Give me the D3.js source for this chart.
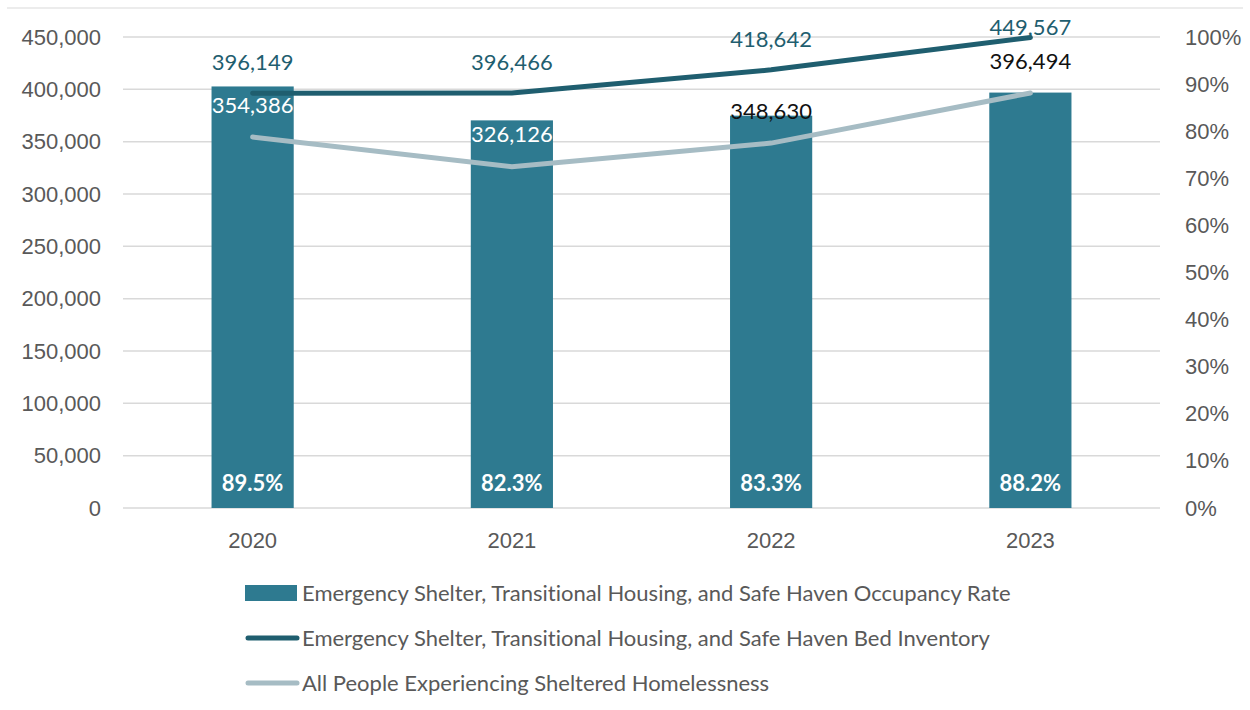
<!DOCTYPE html>
<html>
<head>
<meta charset="utf-8">
<script src="https://cdn.jsdelivr.net/npm/d3@7"></script>
<style>
  body { margin: 0; background: #fff; }
  svg { font-family: Lato, "Open Sans", sans-serif; font-variant-ligatures: none; }
</style>
</head>
<body>
<div id="chart"></div>
<script>
var years = ['2020', '2021', '2022', '2023']
var occupancyRate = [89.5, 82.3, 83.3, 88.2]
var bedInventory = [396149, 396466, 418642, 449567]
var shelteredPeople = [354386, 326126, 348630, 396494]
var leftTicks = [0, 50000, 100000, 150000, 200000, 250000, 300000, 350000, 400000, 450000]
var rightTicks = [0, 10, 20, 30, 40, 50, 60, 70, 80, 90, 100]
var legendLabels = [
  'Emergency Shelter, Transitional Housing, and Safe Haven Occupancy Rate',
  'Emergency Shelter, Transitional Housing, and Safe Haven Bed Inventory',
  'All People Experiencing Sheltered Homelessness'
]

var width = 1250
var height = 710
var margin = {top: 37, right: 90, bottom: 202, left: 123}
var plotW = width - margin.left - margin.right
var plotH = height - margin.top - margin.bottom

var barColor = '#2e7a90'
var bedColor = '#1f5e6f'
var peopleColor = '#a6bcc4'
var textGray = '#595959'
var fontSize = '22px'

var svg = d3.select('#chart').append('svg')
  .attr('width', width)
  .attr('height', height)

// faint chart border line at top
svg.append('line')
  .attr('x1', 7).attr('x2', width - 7)
  .attr('y1', 8).attr('y2', 8)
  .attr('stroke', '#e6e6e6').attr('stroke-width', 1.5)

var g = svg.append('g')
  .attr('transform', 'translate(' + margin.left + ',' + margin.top + ')')

var x = d3.scaleBand()
  .domain(years)
  .range([0, plotW])
  .paddingInner(0.683)
  .paddingOuter(0.3415)

var yL = d3.scaleLinear().domain([0, 450000]).range([plotH, 0])
var yR = d3.scaleLinear().domain([0, 100]).range([plotH, 0])

// gridlines
g.append('g')
  .selectAll('line')
  .data(leftTicks)
  .enter().append('line')
  .attr('x1', 0).attr('x2', plotW)
  .attr('y1', function (d) { return yL(d) })
  .attr('y2', function (d) { return yL(d) })
  .attr('stroke', '#d9d9d9').attr('stroke-width', 1.5)

var leftAxis = g.append('g')
  .call(d3.axisLeft(yL).tickValues(leftTicks).tickFormat(d3.format(',')).tickSize(0).tickPadding(22))
leftAxis.select('.domain').remove()
leftAxis.selectAll('text').attr('fill', textGray).style('font-size', fontSize)

var rightAxis = g.append('g')
  .attr('transform', 'translate(' + plotW + ',0)')
  .call(d3.axisRight(yR).tickValues(rightTicks).tickFormat(function (d) { return d + '%' }).tickSize(0).tickPadding(25))
rightAxis.select('.domain').remove()
rightAxis.selectAll('text').attr('fill', textGray).style('font-size', fontSize)

var bottomAxis = g.append('g')
  .attr('transform', 'translate(0,' + plotH + ')')
  .call(d3.axisBottom(x).tickSize(0).tickPadding(24))
bottomAxis.select('.domain').remove()
bottomAxis.selectAll('text').attr('fill', textGray).style('font-size', fontSize)

// bars (occupancy rate, right axis)
g.selectAll('.bar')
  .data(occupancyRate)
  .enter().append('rect')
  .attr('class', 'bar')
  .attr('x', function (d, i) { return x(years[i]) })
  .attr('y', function (d) { return yR(d) })
  .attr('width', x.bandwidth())
  .attr('height', function (d) { return plotH - yR(d) })
  .attr('fill', barColor)

g.selectAll('.barLabel')
  .data(occupancyRate)
  .enter().append('text')
  .attr('class', 'barLabel')
  .attr('x', function (d, i) { return x(years[i]) + x.bandwidth() / 2 })
  .attr('y', plotH - 25)
  .attr('dy', '0.35em')
  .attr('text-anchor', 'middle')
  .attr('fill', '#fff')
  .style('font-size', fontSize)
  .style('font-weight', 'bold')
  .text(function (d) { return d.toFixed(1) + '%' })

var cx = function (d, i) { return x(years[i]) + x.bandwidth() / 2 }

var valueLine = d3.line()
  .x(cx)
  .y(function (d) { return yL(d) })

g.append('path')
  .datum(bedInventory)
  .attr('d', valueLine)
  .attr('fill', 'none')
  .attr('stroke', bedColor)
  .attr('stroke-width', 5)
  .attr('stroke-linecap', 'round')

g.append('path')
  .datum(shelteredPeople)
  .attr('d', valueLine)
  .attr('fill', 'none')
  .attr('stroke', peopleColor)
  .attr('stroke-width', 5)
  .attr('stroke-linecap', 'round')

// labels sit above the point, but never above the chart's top
g.selectAll('.bedLabel')
  .data(bedInventory)
  .enter().append('text')
  .attr('class', 'bedLabel')
  .attr('x', cx)
  .attr('y', function (d) { return Math.max(yL(d) - 31, -10) })
  .attr('dy', '0.35em')
  .attr('text-anchor', 'middle')
  .attr('fill', bedColor)
  .style('font-size', fontSize)
  .text(d3.format(','))

g.selectAll('.peopleLabel')
  .data(shelteredPeople)
  .enter().append('text')
  .attr('class', 'peopleLabel')
  .attr('x', cx)
  .attr('y', function (d) { return yL(d) - 32 })
  .attr('dy', '0.35em')
  .attr('text-anchor', 'middle')
  .attr('fill', function (d, i) {
    return (yL(d) - 32) > yR(occupancyRate[i]) ? '#fff' : '#111'
  })
  .style('font-size', fontSize)
  .text(d3.format(','))

// legend
var legend = svg.append('g').attr('transform', 'translate(245,593)')
var rowGap = 45
legendLabels.forEach(function (label, i) {
  var row = legend.append('g').attr('transform', 'translate(0,' + (i * rowGap) + ')')
  if (i === 0) {
    row.append('rect').attr('x', 0).attr('y', -8).attr('width', 52).attr('height', 16).attr('fill', barColor)
  } else {
    row.append('line').attr('x1', 3).attr('x2', 52).attr('y1', 0).attr('y2', 0)
      .attr('stroke', i === 1 ? bedColor : peopleColor)
      .attr('stroke-width', 5).attr('stroke-linecap', 'round')
  }
  row.append('text')
    .attr('x', 57).attr('y', 0).attr('dy', '0.35em')
    .attr('fill', textGray)
    .style('font-size', fontSize)
    .text(label)
})
</script>
</body>
</html>
